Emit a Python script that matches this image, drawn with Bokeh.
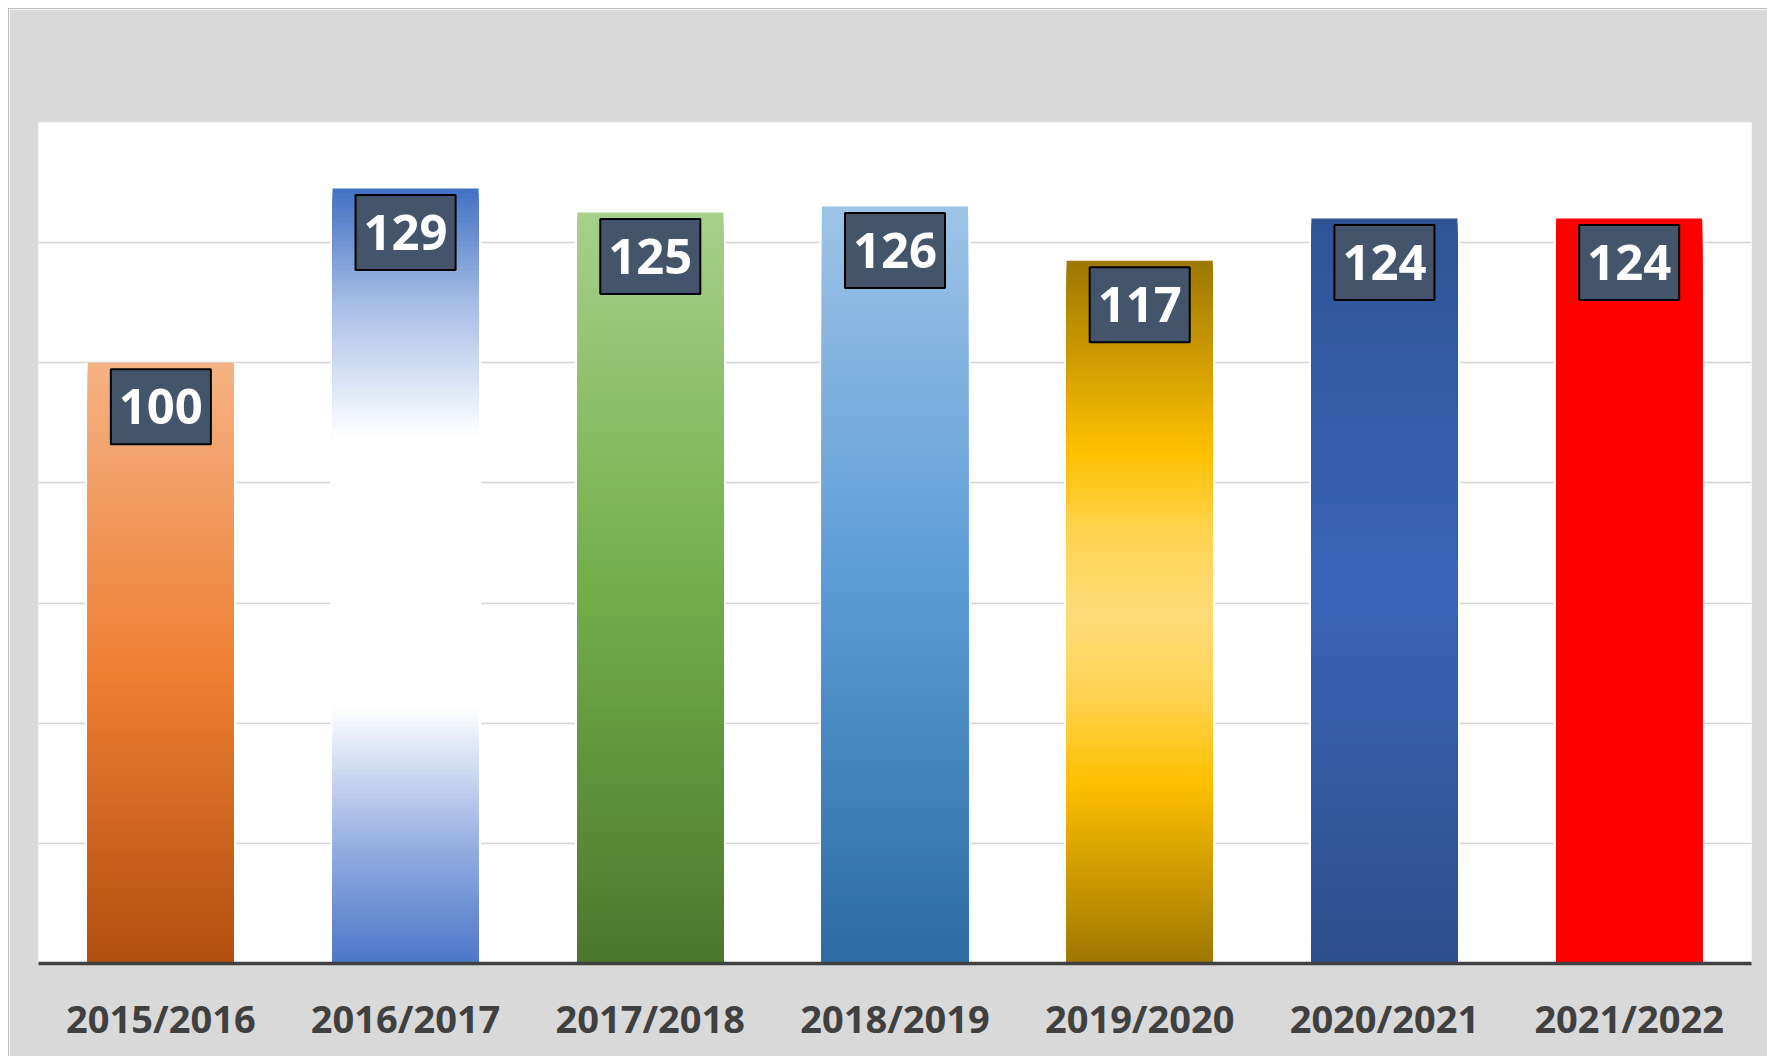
from bokeh.plotting import figure
from bokeh.models import ColumnDataSource, FactorRange, Range1d, FixedTicker, Spacer
from bokeh.layouts import row, column
from bokeh.core.properties import value
from bokeh.embed import file_html
from bokeh.resources import INLINE

# ---- data ----
categories = ["2015/2016", "2016/2017", "2017/2018", "2018/2019",
              "2019/2020", "2020/2021", "2021/2022"]
values = [100, 129, 125, 126, 117, 124, 124]
labels = ["100", "129", "125", "126", "117", "124", "124"]
y_ticks = [20, 40, 60, 80, 100, 120]

# ---- gradient stops per bar (fraction from bottom -> colour) ----
gradients = [
    [(0.0, "#B14E0F"), (0.48, "#EE7E32"), (1.0, "#F5B283")],
    [(0.0, "#4A76C8"), (0.15, "#92ACDF"), (0.335, "#FFFFFF"), (0.683, "#FFFFFF"),
     (0.85, "#A9BFE6"), (1.0, "#4472C4")],
    [(0.0, "#4B772E"), (0.5, "#72AE4A"), (1.0, "#A6D08B")],
    [(0.0, "#2D6AA3"), (0.5, "#5B9BD5"), (1.0, "#9DC3E7")],
    [(0.0, "#9C7600"), (0.26, "#FFC000"), (0.38, "#FFD34F"), (0.5, "#FFDC7A"),
     (0.62, "#FFD34F"), (0.73, "#FFC000"), (1.0, "#9E7800")],
    [(0.0, "#2E4F8B"), (0.5, "#3A64B8"), (1.0, "#2F5597")],
    [(0.0, "#FF0000"), (1.0, "#FF0000")],
]


def hex2rgb(h):
    h = h.lstrip("#")
    return tuple(int(h[i:i + 2], 16) for i in (0, 2, 4))


def grad_color(stops, f):
    for (f0, c0), (f1, c1) in zip(stops[:-1], stops[1:]):
        if f0 <= f <= f1:
            t = 0 if f1 == f0 else (f - f0) / (f1 - f0)
            a, b = hex2rgb(c0), hex2rgb(c1)
            r = [round(a[i] + (b[i] - a[i]) * t) for i in range(3)]
            return "#%02x%02x%02x" % tuple(r)
    return stops[-1][1]


N = 160
seg_x, seg_top, seg_col = [], [], []
for cat, v, stops in zip(categories, values, gradients):
    for k in range(N):
        frac = (N - k) / N
        seg_x.append(cat)
        seg_top.append(v * frac)
        seg_col.append(grad_color(stops, frac))
seg_src = ColumnDataSource(dict(x=seg_x, top=seg_top, color=seg_col))
bar_src = ColumnDataSource(dict(x=categories, top=values, label=labels))

p = figure(
    x_range=FactorRange(factors=categories, range_padding=0),
    y_range=Range1d(0, 140),
    width=1758, height=1047,
    output_backend="svg", toolbar_location=None,
    min_border_left=29, min_border_right=16,
    min_border_top=113, min_border_bottom=93,
)
p.background_fill_color = "white"
p.border_fill_color = "#D9D9D9"
p.outline_line_color = None

# white halo behind bars (cuts the gridlines)
p.vbar(x="x", top="top", bottom=0, width=0.617, source=bar_src,
       fill_color="white", line_color=None)
# gradient bars
p.vbar(x="x", top="top", bottom=0, width=0.597, source=seg_src,
       fill_color="color", line_color=None)

# data labels
p.text(x="x", y="top", text="label", source=bar_src,
       text_font=value("Open Sans"), text_font_style="bold",
       text_font_size="49px", text_color="white",
       text_align="center", text_baseline="middle", y_offset=44,
       background_fill_color="#44546A", border_line_color="black",
       border_line_width=2, padding=dict(left=8, right=8, top=20, bottom=20))

# axes
p.yaxis.visible = False
p.ygrid.ticker = FixedTicker(ticks=y_ticks)
p.ygrid.grid_line_color = "#D3D3D3"
p.ygrid.grid_line_width = 1.5
p.xgrid.grid_line_color = None

xa = p.xaxis[0]
xa.axis_line_color = "#404040"
xa.axis_line_width = 3.5
xa.major_tick_line_color = None
xa.minor_tick_line_color = None
xa.major_label_text_font = "Open Sans"
xa.major_label_text_font_style = "bold"
xa.major_label_text_font_size = "38px"
xa.major_label_text_color = "#404040"
xa.major_label_standoff = 22

edge = {"background-color": "#BFBFBF"}
layout = row(
    Spacer(width=8),
    column(
        Spacer(height=8),
        row(Spacer(width=1, height=1048, styles=edge),
            column(Spacer(width=1758, height=1, styles=edge), p)),
    ),
)
open("out.html", "w").write(file_html(layout, INLINE))
